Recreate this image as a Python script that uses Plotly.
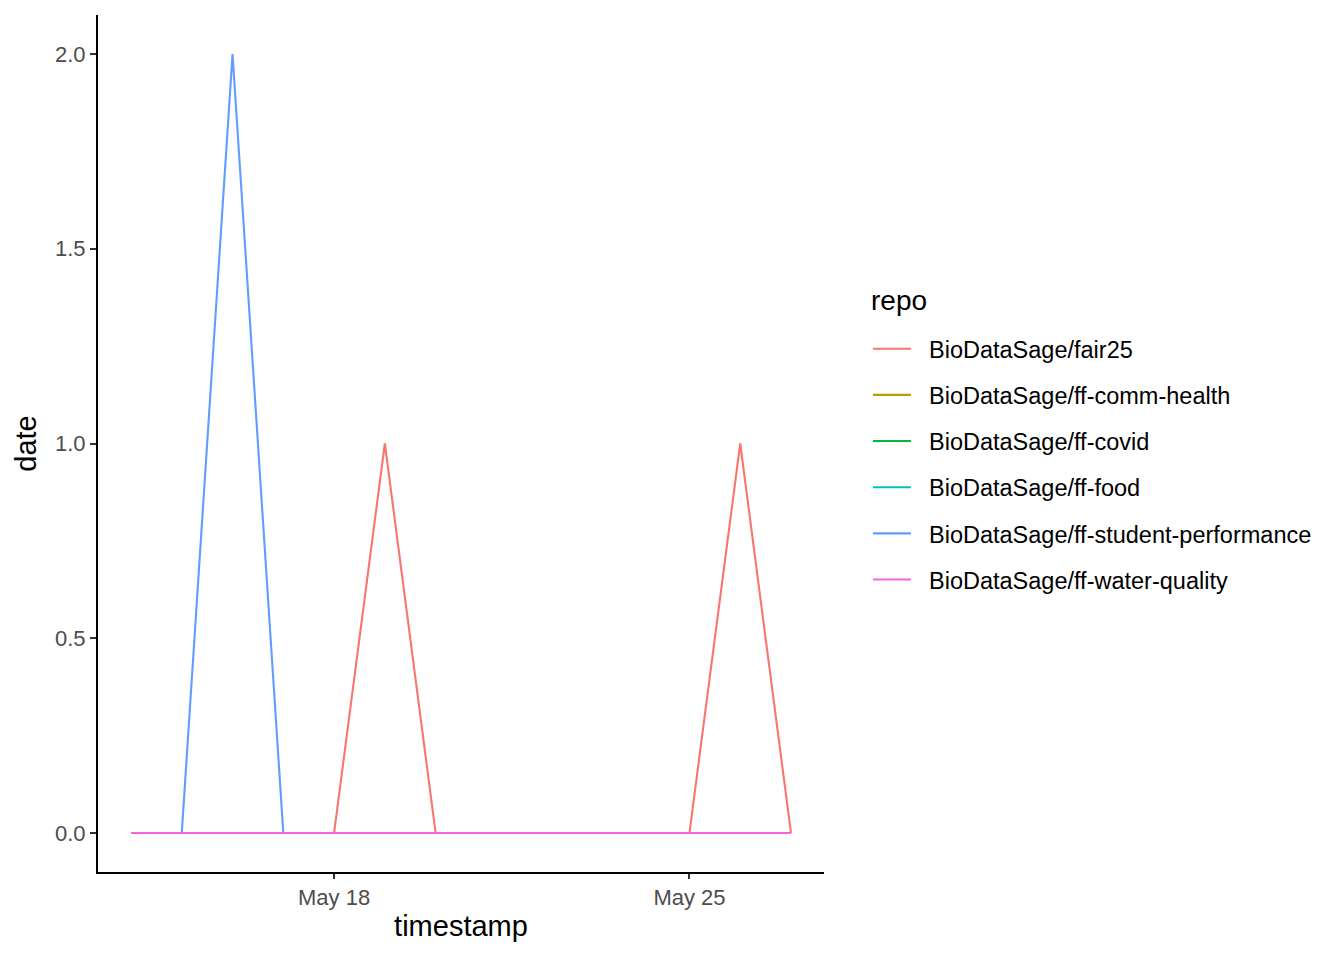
import plotly.graph_objects as go

dates = [
    "2025-05-14", "2025-05-15", "2025-05-16", "2025-05-17", "2025-05-18",
    "2025-05-19", "2025-05-20", "2025-05-21", "2025-05-22", "2025-05-23",
    "2025-05-24", "2025-05-25", "2025-05-26", "2025-05-27",
]

repos = [
    "BioDataSage/fair25",
    "BioDataSage/ff-comm-health",
    "BioDataSage/ff-covid",
    "BioDataSage/ff-food",
    "BioDataSage/ff-student-performance",
    "BioDataSage/ff-water-quality",
]

fair25 = [0, 0, 0, 0, 0, 1, 0, 0, 0, 0, 0, 0, 1, 0]
comm_health = [0, 0, 0, 0, 0, 0, 0, 0, 0, 0, 0, 0, 0, 0]
covid = [0, 0, 0, 0, 0, 0, 0, 0, 0, 0, 0, 0, 0, 0]
food = [0, 0, 0, 0, 0, 0, 0, 0, 0, 0, 0, 0, 0, 0]
student_perf = [0, 0, 2, 0, 0, 0, 0, 0, 0, 0, 0, 0, 0, 0]
water_quality = [0, 0, 0, 0, 0, 0, 0, 0, 0, 0, 0, 0, 0, 0]

series = [fair25, comm_health, covid, food, student_perf, water_quality]
colors = ["#F8766D", "#B79F00", "#00BA38", "#00BFC4", "#619CFF", "#F564E3"]

x_ticks = ["2025-05-18", "2025-05-25"]
y_ticks = [0, 0.5, 1.0, 1.5, 2.0]

FONT = "Liberation Sans, Arial, sans-serif"
PAD = "\u00a0\u00a0"  # a bit of room between key and label, like ggplot

fig = go.Figure()
for name, vals, col in zip(repos, series, colors):
    fig.add_trace(go.Scatter(
        x=dates, y=vals, mode="lines", name=PAD + name,
        line=dict(color=col, width=2.1),
        legendgroup=name,
    ))

# legend title as a separate label so its gap to the keys matches ggplot
fig.add_annotation(
    text="repo", xref="paper", yref="paper", x=1.062, y=0.6674,
    xanchor="left", yanchor="middle", showarrow=False,
    font=dict(size=28, color="black"),
)

fig.update_layout(
    width=1344, height=960,
    paper_bgcolor="white", plot_bgcolor="white",
    margin=dict(l=90, r=528, t=7, b=96),
    font=dict(family=FONT, color="black"),
    showlegend=True,
    legend=dict(
        font=dict(size=23.5, color="black"),
        x=1.0605, xanchor="left", y=0.4755, yanchor="middle",
        tracegroupgap=12.6, itemwidth=38,
        bgcolor="rgba(0,0,0,0)",
    ),
    xaxis=dict(
        type="date",
        range=["2025-05-13 08:24", "2025-05-27 15:36"],
        tickvals=x_ticks, tickformat="%b %d",
        showgrid=False, zeroline=False,
        showline=True, linecolor="black", linewidth=2,
        ticks="outside", ticklen=5, tickwidth=2, tickcolor="#333333",
        tickfont=dict(size=22, color="#4D4D4D"),
        title=dict(text="timestamp", font=dict(size=29, color="black"), standoff=6),
    ),
    yaxis=dict(
        range=[-0.1, 2.1],
        tickvals=y_ticks, tickformat=".1f",
        showgrid=False, zeroline=False,
        showline=True, linecolor="black", linewidth=2,
        ticks="outside", ticklen=6, tickwidth=2, tickcolor="#333333",
        tickfont=dict(size=22, color="#4D4D4D"),
        title=dict(text="date", font=dict(size=29, color="black"), standoff=10),
    ),
)

fig.write_html("out.html")
